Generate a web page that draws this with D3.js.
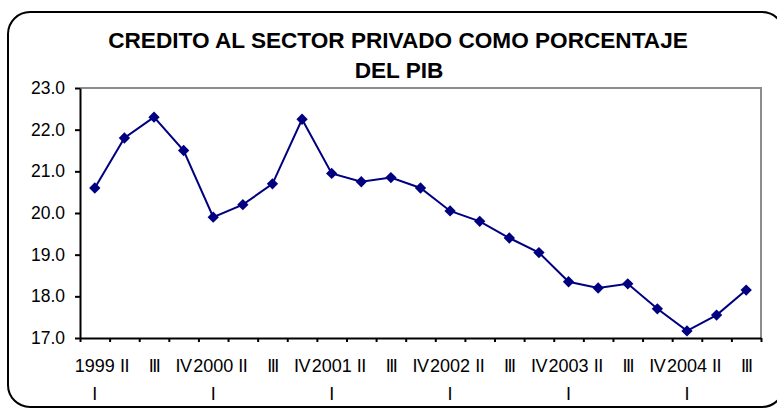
<!DOCTYPE html>
<html>
<head>
<meta charset="utf-8">
<script src="https://cdn.jsdelivr.net/npm/d3@7"></script>
<style>
  body { margin: 0; background: #fff; }
  svg { display: block; font-family: "Liberation Sans", Arial, sans-serif; }
</style>
</head>
<body>
<svg id="chart" width="777" height="410"></svg>
<script>
// quarters 1999 I .. 2004 III
const years = ['1999', '2000', '2001', '2002', '2003', '2004'];
const quarters = ['I', 'II', 'III', 'IV'];
const values = [
  20.6, 21.8, 22.3, 21.5,
  19.9, 20.2, 20.7, 22.25,
  20.95, 20.75, 20.85, 20.6,
  20.05, 19.8, 19.4, 19.05,
  18.35, 18.2, 18.3, 17.7,
  17.17, 17.55, 18.15
];
const yTicks = [17, 18, 19, 20, 21, 22, 23];

// category labels: first quarter carries the year on top line
const categories = [];
years.forEach(y => quarters.forEach(q => {
  if (categories.length < values.length) categories.push({ year: y, q: q });
}));
const data = categories.map((c, i) => ({ ...c, key: c.year + ' ' + c.q, value: values[i] }));

const width = 777, height = 410;
const margin = { top: 88, right: 16, bottom: 72, left: 80 };
const innerW = width - margin.left - margin.right;
const innerH = height - margin.top - margin.bottom;

const svg = d3.select('#chart');

// outer rounded frame (runs slightly past the right edge, like the original)
svg.append('rect')
  .attr('x', 8).attr('y', 12)
  .attr('width', 776).attr('height', 395)
  .attr('rx', 22).attr('ry', 22)
  .attr('fill', '#fff')
  .attr('stroke', '#000')
  .attr('stroke-width', 2);

// title
const title = svg.append('text')
  .attr('text-anchor', 'middle')
  .attr('font-weight', 'bold')
  .attr('font-size', '22.6px')
  .attr('fill', '#000');
title.append('tspan').attr('x', 398).attr('y', 48).text('CREDITO AL SECTOR PRIVADO COMO PORCENTAJE');
title.append('tspan').attr('x', 399).attr('y', 78).text('DEL PIB');

const g = svg.append('g').attr('transform', `translate(${margin.left},${margin.top})`);

const x = d3.scaleBand().domain(data.map(d => d.key)).range([0, innerW]).padding(0);
const xEdge = d3.scaleLinear().domain([0, data.length]).range([0, innerW]);
const y = d3.scaleLinear().domain([17, 23]).range([innerH, 0]);

// plot area frame (grey top/right)
g.append('path')
  .attr('d', `M0,${y(23)}H${innerW}V${y(17)}`)
  .attr('fill', 'none')
  .attr('stroke', '#8c8c8c')
  .attr('stroke-width', 2);

// y axis
const yAxis = g.append('g')
  .call(d3.axisLeft(y).tickValues(yTicks).tickFormat(d3.format('.1f')).tickSize(5).tickSizeOuter(0));
yAxis.select('.domain').attr('stroke', '#000').attr('stroke-width', 2);
yAxis.selectAll('.tick line').attr('stroke', '#000').attr('stroke-width', 2);
yAxis.selectAll('.tick text')
  .attr('x', -15)
  .attr('font-size', '17.5px')
  .attr('font-family', '"Liberation Sans", Arial, sans-serif')
  .attr('fill', '#000');

// x axis, ticks on category edges
const xAxis = g.append('g')
  .attr('transform', `translate(0,${innerH})`)
  .call(d3.axisBottom(xEdge).tickValues(d3.range(data.length + 1)).tickFormat('').tickSize(4).tickSizeOuter(0));
xAxis.select('.domain').attr('stroke', '#000').attr('stroke-width', 2);
xAxis.selectAll('.tick line').attr('stroke', '#000').attr('stroke-width', 2);

// category labels
const lab = g.append('g')
  .attr('font-size', '18px')
  .attr('fill', '#000')
  .attr('text-anchor', 'middle');
data.forEach(d => {
  const cx = x(d.key) + x.bandwidth() / 2;
  if (d.q === 'I') {
    lab.append('text').attr('x', cx).attr('y', innerH + 34).text(d.year);
    lab.append('text').attr('x', cx).attr('y', innerH + 62).text(d.q);
  } else {
    lab.append('text').attr('x', cx).attr('y', innerH + 34)
      .attr('letter-spacing', d.q === 'III' ? '-1.5px' : '-0.5px')
      .text(d.q);
  }
});

// series
const line = d3.line()
  .x(d => x(d.key) + x.bandwidth() / 2)
  .y(d => y(d.value));

g.append('path')
  .datum(data)
  .attr('d', line)
  .attr('fill', 'none')
  .attr('stroke', '#000080')
  .attr('stroke-width', 2);

g.selectAll('path.marker')
  .data(data)
  .enter()
  .append('path')
  .attr('class', 'marker')
  .attr('d', d3.symbol().type(d3.symbolSquare).size(64))
  .attr('transform', d => `translate(${x(d.key) + x.bandwidth() / 2},${y(d.value)}) rotate(45)`)
  .attr('fill', '#000080');
</script>
</body>
</html>
